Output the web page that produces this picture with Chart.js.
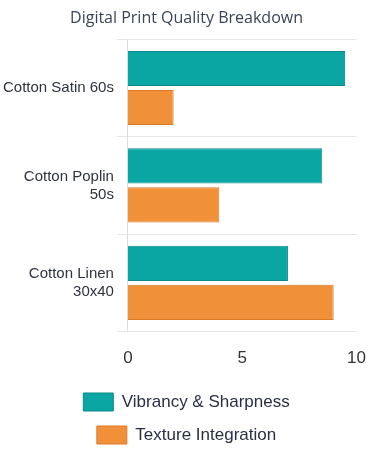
<!DOCTYPE html>
<html>
<head>
<meta charset="utf-8">
<script src="https://cdn.jsdelivr.net/npm/chart.js@4/dist/chart.umd.min.js"></script>
<style>
  html, body { margin: 0; padding: 0; background: #fff; }
  #wrap { width: 375px; height: 460px; position: relative; }
</style>
</head>
<body>
<div id="wrap"><canvas id="bar-chart"></canvas></div>
<script>
// fabrics, one row per category (multi-line labels as arrays)
let fabrics = [
  "Cotton Satin 60s",
  ["Cotton Poplin", "50s"],
  ["Cotton Linen", "30x40"],
];
let seriesNames = ["Vibrancy & Sharpness", "Texture Integration"];
let vibrancy = [9.5, 8.5, 7.0];
let texture = [2.0, 4.0, 9.0];
let xTicks = [0, 5, 10];

let fillColors = ["#0aa6a4", "#f0913a"];
let edgeColors = ["#088b8a", "#d97a26"];

new Chart(document.getElementById("bar-chart"), {
  type: "bar",
  data: {
    labels: fabrics,
    datasets: [
      {
        label: seriesNames[0],
        data: vibrancy,
        backgroundColor: fillColors[0],
        borderColor: edgeColors[0],
        borderWidth: 1,
      },
      {
        label: seriesNames[1],
        data: texture,
        backgroundColor: fillColors[1],
        borderColor: edgeColors[1],
        borderWidth: 1,
      },
    ],
  },
  options: {
    indexAxis: "y",
    responsive: true,
    maintainAspectRatio: false,
    animation: false,
    layout: { padding: { left: 0, right: 2, bottom: 6 } },
    datasets: { bar: { categoryPercentage: 0.8, barPercentage: 0.9 } },
    plugins: {
      title: {
        display: true,
        text: "Digital Print Quality Breakdown",
        color: "#3b4457",
        font: { family: "Open Sans", size: 16, weight: "normal" },
        padding: { top: 9, bottom: 11 },
      },
      legend: {
        position: "bottom",
        labels: {
          boxWidth: 30,
          boxHeight: 18,
          padding: 15,
          color: "#2b2f45",
          font: { family: "Liberation Sans", size: 17 },
        },
      },
      tooltip: { enabled: false },
    },
    scales: {
      x: {
        min: 0,
        max: 10,
        afterBuildTicks: (axis) => {
          axis.ticks = xTicks.map((v) => ({ value: v }));
        },
        grid: { display: false },
        border: { display: false },
        ticks: {
          color: "#333",
          padding: 9,
          font: { family: "Liberation Sans", size: 17 },
        },
      },
      y: {
        grid: { color: "#e6e6e6", tickLength: 11 },
        border: { color: "#dcdcdc" },
        ticks: {
          color: "#2f3340",
          padding: 3,
          font: { family: "Liberation Sans", size: 15 },
        },
      },
    },
  },
});
</script>
</body>
</html>
